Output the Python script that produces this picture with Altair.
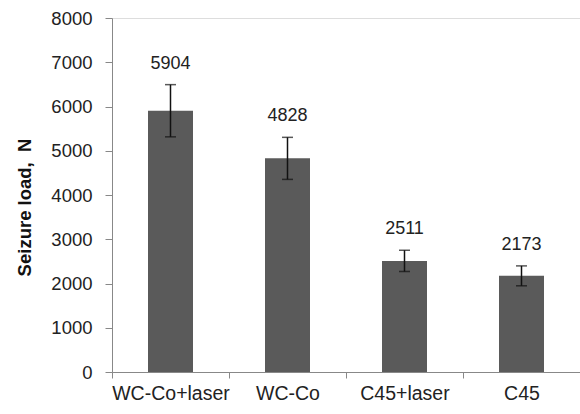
import altair as alt
import pandas as pd

categories = ["WC-Co+laser", "WC-Co", "C45+laser", "C45"]
loads = [5904, 4828, 2511, 2173]
errors = [590, 475, 240, 225]

df = pd.DataFrame({"cat": categories, "load": loads, "err": errors})
df["lo"] = df["load"] - df["err"]
df["hi"] = df["load"] + df["err"]

FONT = "Liberation Sans"

x = alt.X("cat:N", sort=categories,
          scale=alt.Scale(paddingInner=0, paddingOuter=0),
          axis=alt.Axis(title=None, tickBand="extent", labelAngle=0,
                        labelFont=FONT, labelFontSize=19.5, labelColor="#222222",
                        labelPadding=6, tickSize=6, domainColor="#888888",
                        tickColor="#888888", grid=False))

y = alt.Y("load:Q", scale=alt.Scale(domain=[0, 8000], nice=False),
          axis=alt.Axis(title="Seizure load,\u00a0\u00a0N", values=list(range(0, 8001, 1000)),
                        format="d",
                        titleFont=FONT, titleFontSize=18.5, titleFontWeight="bold",
                        titleColor="#111111", titlePadding=16, titleY=189,
                        labelFont=FONT, labelFontSize=18.5, labelColor="#222222",
                        labelPadding=13, tickSize=7, domainColor="#888888",
                        tickColor="#888888", grid=False))

base = alt.Chart(df)

bars = base.mark_bar(color="#5a5a5a", size=45).encode(x=x, y=y)

rules = base.mark_rule(color="#111111", strokeWidth=1.5).encode(
    x=alt.X("cat:N", sort=categories), y="lo:Q", y2="hi:Q")

caps_hi = base.mark_tick(color="#111111", orient="horizontal", size=11, thickness=1.5).encode(
    x=alt.X("cat:N", sort=categories), y="hi:Q")
caps_lo = base.mark_tick(color="#111111", orient="horizontal", size=11, thickness=1.5).encode(
    x=alt.X("cat:N", sort=categories), y="lo:Q")

labels = base.mark_text(font=FONT, fontSize=18, color="#222222", dy=-21,
                        baseline="middle").encode(
    x=alt.X("cat:N", sort=categories), y="hi:Q", text=alt.Text("load:Q", format="d"))

chart = alt.layer(bars, rules, caps_hi, caps_lo, labels).properties(
    width=468, height=354,
    autosize=alt.AutoSizeParams(type="none"),
    padding={"left": 112, "top": 18, "right": 0, "bottom": 42},
).configure_view(stroke=None).configure(background="white")

chart.save("out.html", embed_options={"renderer": "svg", "actions": False})
